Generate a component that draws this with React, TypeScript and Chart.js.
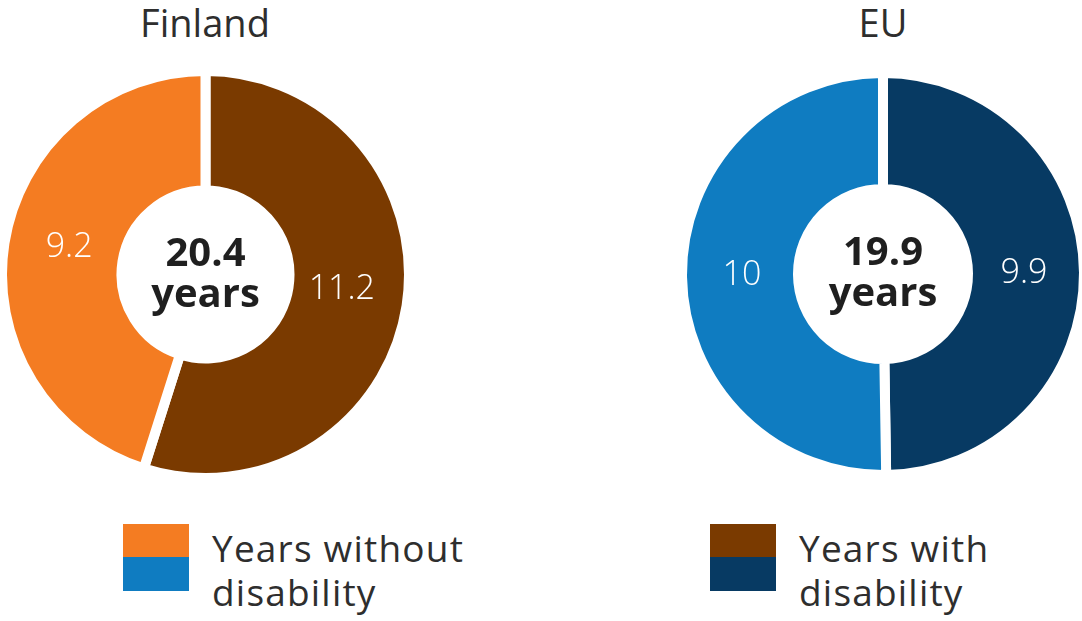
import React, { useEffect, useRef } from "react";
import { Chart, registerables } from "chart.js";

Chart.register(...registerables);

const countries = ["Finland", "EU"];
const segmentLabels = ["Years with disability", "Years without disability"];
const finlandValues = [11.2, 9.2];
const euValues = [9.9, 10];
const finlandColors = ["#7A3A00", "#F47C22"];
const euColors = ["#073A63", "#0F7CC1"];
const legendLines = [
  ["Years without", "disability"],
  ["Years with", "disability"],
];
const centerUnit = "years";

const FONT = "'Open Sans', 'Noto Sans', sans-serif";

const labelPlugin = {
  id: "ringLabels",
  afterDatasetsDraw(chart: any) {
    const ctx = chart.ctx;
    const meta = chart.getDatasetMeta(0);
    const data = chart.data.datasets[0].data as number[];
    const opts = chart.options.plugins.ringLabels || {};
    ctx.save();
    ctx.textAlign = "center";
    ctx.textBaseline = "middle";
    meta.data.forEach((arc: any, i: number) => {
      const p = arc.getProps(["x", "y", "startAngle", "endAngle", "innerRadius", "outerRadius"], true);
      const mid = (p.startAngle + p.endAngle) / 2;
      const r = opts.labelRadius || (p.innerRadius + p.outerRadius) / 2;
      const x = p.x + Math.cos(mid) * r;
      const y = p.y + Math.sin(mid) * r + (opts.yOffset ?? 0);
      ctx.fillStyle = "#ffffff";
      ctx.font = `300 34px ${FONT}`;
      ctx.fillText(String(data[i]).replace(/\.0$/, ""), x, y);
    });
    const first = meta.data[0];
    if (first) {
      const total = data.reduce((a, b) => a + b, 0).toFixed(1);
      ctx.fillStyle = "#1f1f1f";
      ctx.font = `bold 40px ${FONT}`;
      ctx.textBaseline = "alphabetic";
      ctx.fillText(total, first.x, first.y - 9);
      ctx.fillText(centerUnit, first.x, first.y + 32);
    }
    ctx.restore();
  },
};

function Donut(props: { values: number[]; colors: string[]; size: number; cutout: number; left: number; top: number; labelRadius: number; yOffset: number }) {
  const ref = useRef<HTMLCanvasElement | null>(null);
  useEffect(() => {
    if (!ref.current) return;
    const chart = new Chart(ref.current, {
      type: "doughnut",
      data: {
        labels: segmentLabels,
        datasets: [
          {
            data: props.values,
            backgroundColor: props.colors,
            borderColor: "#ffffff",
            borderWidth: 10,
            hoverOffset: 0,
          },
        ],
      },
      options: {
        animation: false,
        responsive: false,
        maintainAspectRatio: false,
        cutout: props.cutout,
        layout: { padding: 2 },
        plugins: {
          legend: { display: false },
          tooltip: { enabled: false },
          title: { display: false },
          ringLabels: { labelRadius: props.labelRadius, yOffset: props.yOffset },
        } as any,
      },
      plugins: [labelPlugin as any],
    });
    return () => chart.destroy();
  }, []);
  return (
    <canvas
      ref={ref}
      width={props.size}
      height={props.size}
      style={{ position: "absolute", left: props.left, top: props.top, width: props.size, height: props.size }}
    />
  );
}

function Legend(props: { left: number; top: number; colors: string[]; lines: string[] }) {
  return (
    <div style={{ position: "absolute", left: props.left, top: props.top }}>
      <div style={{ position: "absolute", left: 0, top: 0, width: 66, height: 33, background: props.colors[0] }} />
      <div style={{ position: "absolute", left: 0, top: 33, width: 66, height: 34, background: props.colors[1] }} />
      <div
        style={{
          position: "absolute",
          left: 89,
          top: 2,
          whiteSpace: "nowrap",
          font: `400 37px ${FONT}`,
          letterSpacing: "1.2px",
          lineHeight: "44px",
          color: "#2e2e2e",
        }}
      >
        {props.lines.map((l, i) => (
          <div key={i}>{l}</div>
        ))}
      </div>
    </div>
  );
}

export default function App() {
  useEffect(() => {
    document.body.style.margin = "0";
  }, []);
  const titleStyle = (cx: number): React.CSSProperties => ({
    position: "absolute",
    left: cx - 150,
    width: 300,
    top: -8,
    textAlign: "center",
    font: `400 38px ${FONT}`,
    color: "#2e2e2e",
    lineHeight: "60px",
  });
  return (
    <div style={{ position: "relative", width: 1082, height: 621, background: "#ffffff", overflow: "hidden" }}>
      <div style={titleStyle(205)}>{countries[0]}</div>
      <div style={titleStyle(883)}>{countries[1]}</div>
      <Donut values={finlandValues} colors={finlandColors} size={421} cutout={84} left={-5} top={64} labelRadius={138} yOffset={-6} />
      <Donut values={euValues} colors={euColors} size={416} cutout={85} left={675} top={66} labelRadius={141} yOffset={0} />
      <Legend left={123} top={524} colors={[finlandColors[1], euColors[1]]} lines={legendLines[0]} />
      <Legend left={710} top={524} colors={[finlandColors[0], euColors[0]]} lines={legendLines[1]} />
    </div>
  );
}
